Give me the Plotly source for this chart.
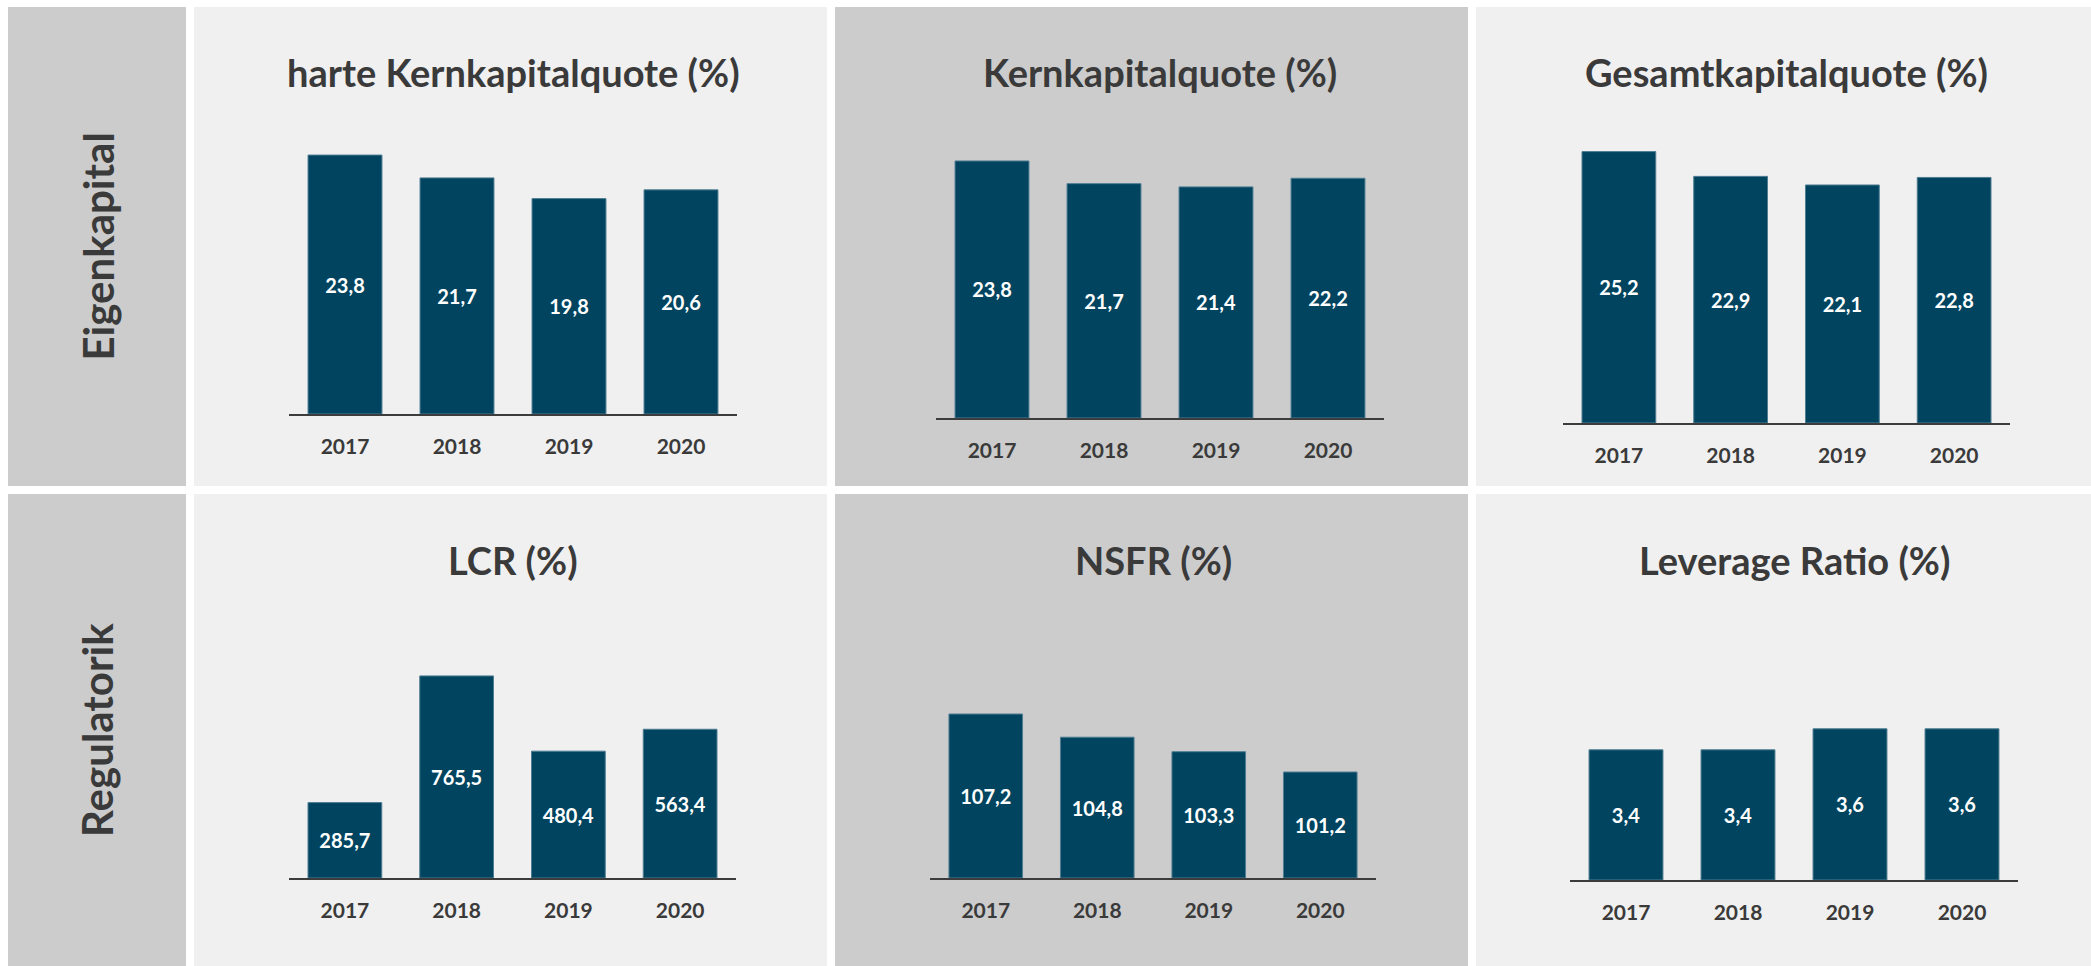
import plotly.graph_objects as go

# ---------------- data ----------------
years = ["2017", "2018", "2019", "2020"]
harte_kernkapitalquote = [23.8, 21.7, 19.8, 20.6]
kernkapitalquote = [23.8, 21.7, 21.4, 22.2]
gesamtkapitalquote = [25.2, 22.9, 22.1, 22.8]
lcr = [285.7, 765.5, 480.4, 563.4]
nsfr = [107.2, 104.8, 103.3, 101.2]
leverage_ratio = [3.4, 3.4, 3.6, 3.6]

panel_titles = ["harte Kernkapitalquote (%)", "Kernkapitalquote (%)", "Gesamtkapitalquote (%)",
                "LCR (%)", "NSFR (%)", "Leverage Ratio (%)"]
row_labels = ["Eigenkapital", "Regulatorik"]
series = [harte_kernkapitalquote, kernkapitalquote, gesamtkapitalquote, lcr, nsfr, leverage_ratio]

# ---------------- layout (pixels) ----------------
W, H = 2091, 966
LIGHT, DARK = "#f0f0f0", "#cccccc"
BAR = "#00445f"
TXT = "#3a3a3a"
FONT = "Lato"

rows_px = [(7, 486), (494, 966)]
cols_px = [(194, 827), (835, 1468), (1476, 2091)]
label_col_px = (8, 186)
panel_bg = [LIGHT, DARK, LIGHT, LIGHT, DARK, LIGHT]
title_y_px = [72, 560]

# axis x extent, baseline y, top of plot area, px per unit, value at the baseline
axes_cfg = [
    dict(x0=289, x1=737, base=414, top=110, scale=10.88, v0=0),
    dict(x0=936, x1=1384, base=418, top=110, scale=10.8, v0=0),
    dict(x0=1563, x1=2010, base=423, top=110, scale=10.77, v0=0),
    dict(x0=289, x1=736, base=878, top=600, scale=0.264, v0=0),
    dict(x0=930, x1=1376, base=878, top=600, scale=9.67, v0=90.24),
    dict(x0=1570, x1=2018, base=880, top=600, scale=105.0, v0=2.16),
]


def fx(px):
    return px / W


def fy(py):
    return 1 - py / H


fig = go.Figure()
shapes = []
annotations = []

# row label panels
for r, (y0, y1) in enumerate(rows_px):
    shapes.append(dict(type="rect", xref="paper", yref="paper", layer="below",
                       x0=fx(label_col_px[0]), x1=fx(label_col_px[1]), y0=fy(y1), y1=fy(y0),
                       fillcolor=DARK, line=dict(width=0)))
    annotations.append(dict(xref="paper", yref="paper", x=fx(sum(label_col_px) / 2),
                            y=fy((y0 + y1) / 2), text=row_labels[r], showarrow=False,
                            textangle=-90, xanchor="center", yanchor="middle",
                            font=dict(family=FONT, size=42, color=TXT, weight=700)))

for i in range(6):
    r, c = divmod(i, 3)
    y0, y1 = rows_px[r]
    cx0, cx1 = cols_px[c]
    shapes.append(dict(type="rect", xref="paper", yref="paper", layer="below",
                       x0=fx(cx0), x1=fx(cx1), y0=fy(y1), y1=fy(y0),
                       fillcolor=panel_bg[i], line=dict(width=0)))
    cfg = axes_cfg[i]
    n = i + 1
    xa = "xaxis" if n == 1 else f"xaxis{n}"
    ya = "yaxis" if n == 1 else f"yaxis{n}"
    xr = "x" if n == 1 else f"x{n}"
    yr = "y" if n == 1 else f"y{n}"
    ytop = cfg["v0"] + (cfg["base"] - cfg["top"]) / cfg["scale"]
    vals = series[i]
    fig.add_trace(go.Bar(
        x=years, y=[v - cfg["v0"] for v in vals], base=cfg["v0"], customdata=vals,
        xaxis=xr, yaxis=yr,
        marker=dict(color=BAR, line=dict(color="#4f7d92", width=1)),
        texttemplate="%{customdata:.1f}", textposition="inside", insidetextanchor="middle",
        textfont=dict(family=FONT, size=20, color="white", weight=700),
        constraintext="none", hoverinfo="skip", showlegend=False,
    ))
    fig.layout[xa] = dict(domain=[fx(cfg["x0"]), fx(cfg["x1"])], anchor=yr, type="category",
                          range=[-0.5, 3.5], showline=True, linecolor="#3c3c3c", linewidth=2,
                          showgrid=False, zeroline=False, ticks="", ticklabelstandoff=13,
                          tickfont=dict(family=FONT, size=21, color=TXT, weight=700),
                          fixedrange=True)
    fig.layout[ya] = dict(domain=[fy(cfg["base"]), fy(cfg["top"])], anchor=xr,
                          range=[cfg["v0"], ytop], visible=False, showgrid=False,
                          zeroline=False, fixedrange=True)
    annotations.append(dict(xref="paper", yref="paper", x=fx((cfg["x0"] + cfg["x1"]) / 2),
                            y=fy(title_y_px[r]), text=panel_titles[i], showarrow=False,
                            xanchor="center", yanchor="middle",
                            font=dict(family=FONT, size=38, color=TXT, weight=700)))

fig.update_layout(
    width=W, height=H, margin=dict(l=0, r=0, t=0, b=0),
    paper_bgcolor="white", plot_bgcolor="rgba(0,0,0,0)",
    separators=",.", bargap=0.34,
    shapes=shapes, annotations=annotations,
    font=dict(family=FONT, color=TXT),
)

fig.write_html("out.html", config={"displayModeBar": False},
               post_script="document.body.style.margin='0';document.body.style.overflow='hidden';")
